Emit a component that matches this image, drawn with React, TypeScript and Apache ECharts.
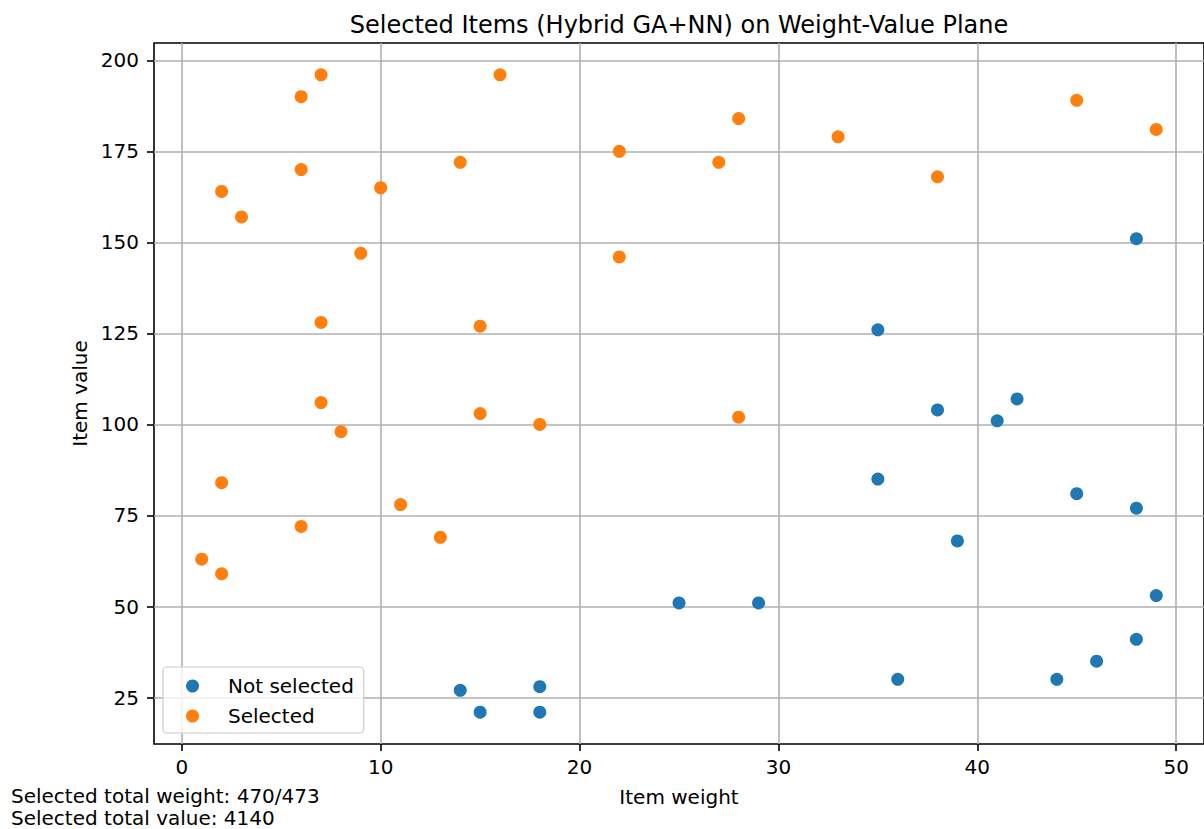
import React, { useEffect, useRef } from "react";
import * as echarts from "echarts";

const titleText = "Selected Items (Hybrid GA+NN) on Weight-Value Plane";
const xAxisName = "Item weight";
const yAxisName = "Item value";
const xTicks = [0, 10, 20, 30, 40, 50];
const yTicks = [25, 50, 75, 100, 125, 150, 175, 200];
const capacity = 473;

const selectedWeights = [1, 2, 2, 2, 3, 6, 6, 6, 7, 7, 7, 8, 9, 10, 11, 13, 14, 15, 15, 16, 18, 22, 22, 27, 28, 28, 33, 38, 45, 49];
const selectedValues = [63, 164, 84, 59, 157, 190, 170, 72, 196, 128, 106, 98, 147, 165, 78, 69, 172, 127, 103, 196, 100, 175, 146, 172, 184, 102, 179, 168, 189, 181];

const notSelectedWeights = [14, 15, 18, 18, 25, 29, 35, 35, 36, 38, 39, 41, 42, 44, 45, 46, 48, 48, 48, 49];
const notSelectedValues = [27, 21, 28, 21, 51, 51, 126, 85, 30, 104, 68, 101, 107, 30, 81, 35, 151, 77, 41, 53];

const FONT = "DejaVu Sans";

export default function App() {
  const ref = useRef<HTMLDivElement>(null);
  useEffect(() => {
    if (!ref.current) return;
    const chart = echarts.init(ref.current, undefined, { renderer: "svg" });
    const totalW = selectedWeights.reduce((a, b) => a + b, 0);
    const totalV = selectedValues.reduce((a, b) => a + b, 0);
    const summary = [
      `Selected total weight: ${totalW}/${capacity}`,
      `Selected total value: ${totalV}`,
    ];
    const axisCommon = {
      type: "value" as const,
      axisLine: { show: false, onZero: false },
      splitLine: { show: true, lineStyle: { color: "#b0b0b0", width: 1.6 } },
      nameLocation: "middle" as const,
      nameTextStyle: { fontSize: 20, fontFamily: FONT, color: "#000" },
    };
    chart.setOption({
      animation: false,
      backgroundColor: "#ffffff",
      title: {
        text: titleText,
        left: 674,
        top: 8,
        textAlign: "center",
        textStyle: { fontSize: 24, fontFamily: FONT, color: "#000", fontWeight: "normal" },
      },
      grid: {
        left: 154,
        top: 43,
        width: 1052,
        height: 701,
        show: true,
        borderColor: "#000",
        borderWidth: 1.6,
        backgroundColor: "transparent",
      },
      legend: {
        data: ["Not selected", "Selected"],
        orient: "vertical",
        left: 163,
        top: 667,
        icon: "circle",
        itemWidth: 13,
        itemHeight: 13,
        itemGap: 10,
        padding: [9, 10, 7, 23],
        backgroundColor: "rgba(255,255,255,0.8)",
        borderColor: "#cccccc",
        borderWidth: 1.2,
        borderRadius: 4,
        formatter: (name: string) => `{t|${name}}`,
        textStyle: {
          fontSize: 20,
          fontFamily: FONT,
          color: "#000",
          rich: { t: { padding: [0, 0, 0, 24], fontSize: 20, fontFamily: FONT, color: "#000" } },
        },
      },
      xAxis: {
        ...axisCommon,
        min: -1.4,
        max: 51.4,
        name: xAxisName,
        nameGap: 43,
        axisTick: { show: true, length: 7, lineStyle: { color: "#000", width: 1.6 }, customValues: xTicks },
        axisLabel: { customValues: xTicks, margin: 13, fontSize: 20, fontFamily: FONT, color: "#000" },
      },
      yAxis: {
        ...axisCommon,
        min: 12.25,
        max: 204.75,
        name: yAxisName,
        nameGap: 63,
        axisTick: { show: true, length: 7, lineStyle: { color: "#000", width: 1.6 }, customValues: yTicks },
        axisLabel: { customValues: yTicks, margin: 15, fontSize: 20, fontFamily: FONT, color: "#000" },
      },
      graphic: [
        {
          type: "text",
          left: 11,
          top: 786,
          style: {
            text: summary[0],
            font: `20px '${FONT}'`,
            fill: "#000",
            lineHeight: 18,
          },
        },
        {
          type: "text",
          left: 11,
          top: 808,
          style: {
            text: summary[1],
            font: `20px '${FONT}'`,
            fill: "#000",
            lineHeight: 18,
          },
        },
      ],
      series: [
        {
          name: "Not selected",
          type: "scatter",
          symbol: "circle",
          symbolSize: 13,
          itemStyle: { color: "#1f77b4", opacity: 1 },
          data: notSelectedWeights.map((w, i) => [w, notSelectedValues[i]]),
        },
        {
          name: "Selected",
          type: "scatter",
          symbol: "circle",
          symbolSize: 13,
          itemStyle: { color: "#ff7f0e", opacity: 1 },
          data: selectedWeights.map((w, i) => [w, selectedValues[i]]),
        },
      ],
    });
    return () => chart.dispose();
  }, []);
  return (
    <div
      ref={ref}
      style={{ position: "absolute", left: 0, top: 0, width: 1204, height: 829 }}
    />
  );
}
